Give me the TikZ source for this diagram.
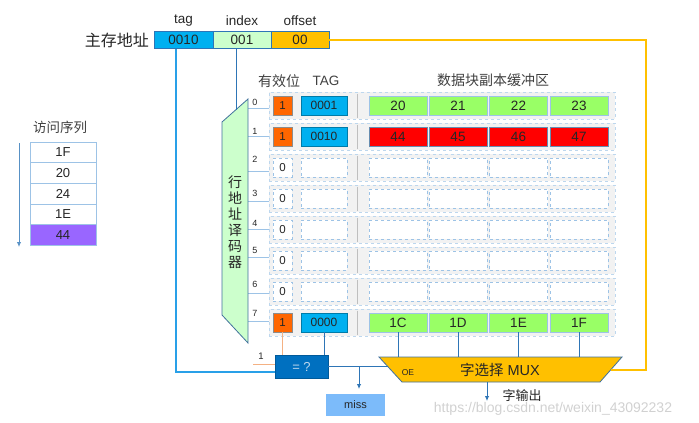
\documentclass[tikz,border=0pt]{standalone}
\usepackage{fontspec}
\setmainfont{Liberation Sans}
\newfontfamily\cjk{Noto Sans CJK SC}
\usetikzlibrary{arrows.meta,calc}
\definecolor{cTag}{HTML}{00B0F0}
\definecolor{cIdx}{HTML}{CCFFCC}
\definecolor{cOff}{HTML}{FFC000}
\definecolor{cBord}{HTML}{2E75B6}
\definecolor{cLine}{HTML}{2E75B6}
\definecolor{cTagLine}{HTML}{29A0E8}
\definecolor{cLight}{HTML}{9DC3E6}
\definecolor{cRow}{HTML}{F2F2F2}
\definecolor{cRowB}{HTML}{BDD7EE}
\definecolor{cOrange}{HTML}{FF6600}
\definecolor{cGreen}{HTML}{99FF66}
\definecolor{cRed}{HTML}{FF0000}
\definecolor{cEq}{HTML}{0070C0}
\definecolor{cMiss}{HTML}{7CBBFA}
\definecolor{cPurple}{HTML}{9966FF}
\definecolor{cDecB}{HTML}{41719C}
\definecolor{cText}{HTML}{262626}
\definecolor{cHead}{HTML}{404040}
\definecolor{cSalmon}{HTML}{F4B183}
\begin{document}
\begin{tikzpicture}[x=1pt,y=-1pt,
  every node/.style={text=cText},
  addrbox/.style={draw=cBord,line width=0.8pt,minimum width=58pt,minimum height=17pt,inner sep=0pt,font=\fontsize{13.5}{15}\selectfont},
  lbl/.style={font=\fontsize{13.5}{15}\selectfont,inner sep=0pt},
  head/.style={font=\fontsize{13.5}{15}\selectfont,inner sep=0pt,text=cHead},
  rowbox/.style={draw=cRowB,dashed,fill=cRow,minimum width=346pt,minimum height=27pt,inner sep=0pt},
  sepline/.style={draw=black!25,line width=0.9pt},
  rowlab/.style={font=\fontsize{9}{10}\selectfont,inner sep=0pt},
  rowline/.style={draw=cLight,line width=0.8pt},
  vbox/.style={minimum width=19pt,minimum height=19pt,inner sep=0pt,font=\fontsize{11.5}{12}\selectfont},
  vfull/.style={vbox,fill=cOrange,draw=black!45},
  vempty/.style={vbox,fill=white,draw=cLight,dashed},
  tbox/.style={minimum width=46pt,minimum height=19pt,inner sep=0pt,font=\fontsize{12}{13}\selectfont},
  tfull/.style={tbox,fill=cTag,draw=cTag!70!black},
  tempty/.style={tbox,fill=white,draw=cLight,dashed},
  dbox/.style={minimum width=58pt,minimum height=19pt,inner sep=0pt,font=\fontsize{13.5}{14}\selectfont},
  dgreen/.style={dbox,fill=cGreen,draw=cLight},
  dred/.style={dbox,fill=cRed,draw=cDecB!80},
  dempty/.style={dbox,fill=white,draw=cLight,dashed},
  seqbox/.style={draw=cLight,line width=0.8pt,fill=white,minimum width=66pt,minimum height=20.6pt,inner sep=0pt,font=\fontsize{13}{14}\selectfont},
  blueline/.style={draw=cLine,line width=0.9pt},
  arr/.style={-{Latex[length=5pt,width=4.5pt]}},
]
\useasboundingbox (0,0) rectangle (699,423);

% ---------- main memory address ----------
\node[lbl,anchor=east,font=\cjk\fontsize{16}{18}\selectfont] (mainaddr) at (149,40) {主存地址};
\node[addrbox,fill=cTag,minimum width=59pt] (tagb) at (183.5,40) {0010};
\node[addrbox,fill=cIdx] (idx) at (242,40) {001};
\node[addrbox,fill=cOff] (off) at (300,40) {00};
\node[lbl] (tagl) at (183.5,21) {tag};
\node[lbl] (idxl) at (242,21) {index};
\node[lbl] (offl) at (300,21) {offset};

% ---------- headers ----------
\node[head,font=\cjk\fontsize{14}{15}\selectfont] (hv) at (279,81) {有效位};
\node[head] (ht) at (326,81) {TAG};
\node[head,font=\cjk\fontsize{14}{15}\selectfont] (hd) at (493,80) {数据块副本缓冲区};

% ---------- rows ----------
\foreach \i/\ly/\lyy in {0/102/108,1/131/136,2/159/171,3/193/201,4/223/229,5/250/257,6/284/293,7/313/321}{
  \pgfmathsetmacro\cy{105.5+31*\i}
  \node[rowbox] (r\i) at (442,\cy) {};
  \draw[sepline] (357,{\cy-12}) -- (357,{\cy+12});
  \node[rowlab] (n\i) at (255,\ly) {\i};
  \coordinate (dout\i) at (248,\lyy);
  \draw[rowline] (dout\i) -- (dout\i -| r\i.west);
}
\foreach \i in {2,...,6}{
  \pgfmathsetmacro\cy{105.5+31*\i}
  \node[vempty] (v\i) at (282.5,\cy) {0};
  \node[tempty] (t\i) at (324,\cy) {};
  \foreach \j/\x in {1/398,2/458,3/518.5,4/579}{
    \node[dempty] (d\i-\j) at (\x,\cy) {};
  }
}
% row 0
\node[vfull] (v0) at (282.5,105.5) {1};
\node[tfull] (t0) at (324,105.5) {0001};
\foreach \j/\x/\t in {1/398/20,2/458/21,3/518.5/22,4/579/23}{
  \node[dgreen] (d0-\j) at (\x,105.5) {\t};
}
% row 1
\node[vfull] (v1) at (282.5,136.5) {1};
\node[tfull] (t1) at (324,136.5) {0010};
\foreach \j/\x/\t in {1/398/44,2/458/45,3/518.5/46,4/579/47}{
  \node[dred] (d1-\j) at (\x,136.5) {\t};
}
% row 7
\node[vfull] (v7) at (282.5,322.5) {1};
\node[tfull] (t7) at (324,322.5) {0000};
\foreach \j/\x/\t in {1/398/1C,2/458/1D,3/518.5/1E,4/579/1F}{
  \node[dgreen] (d7-\j) at (\x,322.5) {\t};
}

% ---------- row address decoder ----------
\draw[fill=cIdx,draw=cDecB,line width=0.8pt] (248,99) -- (248,343) -- (222,315) -- (222,122) -- cycle;
\node[align=center,inner sep=0pt,font=\cjk\fontsize{14}{16}\selectfont] (dec) at (235,222) {行\\地\\址\\译\\码\\器};

% ---------- comparator / miss ----------
\node[fill=cEq,draw=cEq!80!black,minimum width=53pt,minimum height=23pt,inner sep=0pt,text=cRowB,font=\fontsize{13}{14}\selectfont] (eq) at (301.5,366.5) {= ?};
\node[fill=cMiss,minimum width=59pt,minimum height=22pt,inner sep=0pt,font=\fontsize{11}{12}\selectfont] (miss) at (355.5,405) {miss};

% ---------- MUX ----------
\draw[fill=cOff,draw=cDecB,line width=0.8pt] (379,357) -- (622,357) -- (600,382) -- (402,382) -- cycle;
\node[inner sep=0pt,font=\fontsize{14.5}{16}\selectfont] (mux) at (500,370) {{\cjk 字选择} MUX};
\node[inner sep=0pt,font=\fontsize{8.5}{9}\selectfont] (oe) at (408,373) {OE};
\coordinate (muxtop) at (500,357);
\coordinate (muxR) at (610.6,370);
\coordinate (oein) at (387.7,366.5);
\coordinate (muxout) at (487,382);
\coordinate (outend) at (487,401);
\node[inner sep=0pt,font=\cjk\fontsize{13}{15}\selectfont] (outl) at (522,396) {字输出};

% ---------- connectors ----------
\coordinate (idxin) at (236,109.6);
\draw[blueline] ([xshift=-6pt]idx.south) -- (idxin);
\draw[draw=cTagLine,line width=1.1pt] ([xshift=-7.5pt]tagb.south) |- ([yshift=-5.5pt]eq.west);
\coordinate (oc) at (646,40);
\draw[draw=cOff,line width=1.1pt] (off.east) -- (oc) |- (muxR);
\draw[draw=cSalmon,line width=0.9pt] (v7.south) -- (v7.south |- eq.north);
\draw[blueline] (t7.south) -- (t7.south |- eq.north);
\coordinate (one) at (253,364);
\draw[draw=cSalmon,line width=0.9pt] (one) -- (one -| eq.west);
\node[rowlab,font=\fontsize{9.5}{10}\selectfont] (onel) at (261,356) {1};
\draw[blueline] (eq.east) -- (oein);
\coordinate (mt) at (359,366.5);
\coordinate (mb) at (359,389);
\draw[blueline,arr] (mt) -- (mb);
\foreach \j in {1,...,4}{
  \draw[blueline] (d7-\j.south) -- (d7-\j.south |- muxtop);
}
\draw[blueline,arr] (muxout) -- (outend);

% ---------- access sequence ----------
\node[lbl,font=\cjk\fontsize{13.5}{15}\selectfont,text=cHead] (seqt) at (60,127) {访问序列};
\foreach \k/\t in {0/1F,1/20,2/24,3/1E}{
  \node[seqbox] (s\k) at (63,{152.5+20.6*\k}) {\t};
}
\node[seqbox,fill=cPurple] (s4) at (63,234.9) {44};
\coordinate (sa) at (19,143);
\coordinate (sb) at (19,247);
\draw[draw=cLine!80,line width=0.9pt,arr] (sa) -- (sb);

% ---------- watermark ----------
\node[inner sep=0pt,text=black!18,font=\fontsize{14}{16}\selectfont] (wm) at (553,409) {https://blog.csdn.net/weixin\_43092232};
\end{tikzpicture}
\end{document}
